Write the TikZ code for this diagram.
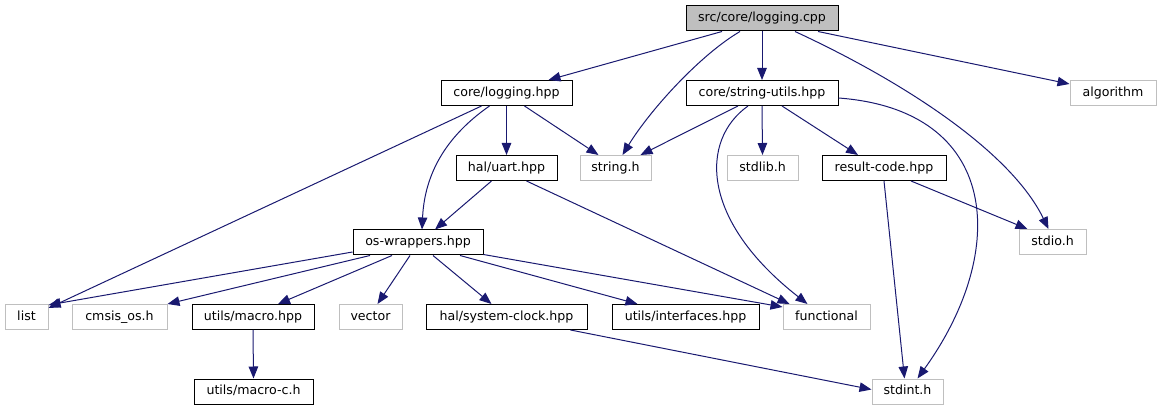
\documentclass[tikz,border=0pt]{standalone}
\usepackage{fontspec}
\setmainfont{DejaVu Sans}
\usetikzlibrary{arrows.meta}
\definecolor{edgec}{HTML}{191970}
\definecolor{extc}{HTML}{BFBFBF}
\begin{document}
\begin{tikzpicture}[x=1pt,y=-1pt,
  box/.style={draw=black, line width=1pt, minimum height=25pt, inner sep=0pt,
    text height=9.5pt, text depth=3pt, font=\fontsize{12.6}{15}\selectfont},
  extbox/.style={box, draw=extc},
  rootbox/.style={box, fill=extc},
  dep/.style={draw=edgec, line width=1pt, -{Triangle[length=12pt,width=9.5pt]}}]
\useasboundingbox (0,0) rectangle (1161,411);
% nodes
\node[rootbox, minimum width=152pt] (root) at (762,18.5) {src/core/logging.cpp};
\node[box, minimum width=131pt] (logh) at (506.5,93) {core/logging.hpp};
\node[box, minimum width=152pt] (strutil) at (762,93) {core/string-utils.hpp};
\node[extbox, minimum width=86pt] (algo) at (1113,93) {algorithm};
\node[box, minimum width=101pt] (uart) at (506.5,168) {hal/uart.hpp};
\node[extbox, minimum width=71pt] (strh) at (615.5,168) {string.h};
\node[extbox, minimum width=71pt] (stdlib) at (762.5,168) {stdlib.h};
\node[box, minimum width=124pt] (result) at (884,168) {result-code.hpp};
\node[box, minimum width=130pt] (osw) at (418,242.5) {os-wrappers.hpp};
\node[extbox, minimum width=67pt] (stdio) at (1052.5,242) {stdio.h};
\node[extbox, minimum width=43pt] (list) at (26.5,317) {list};
\node[extbox, minimum width=95pt] (cmsis) at (119.5,317) {cmsis\_os.h};
\node[box, minimum width=122pt] (macro) at (253,317) {utils/macro.hpp};
\node[extbox, minimum width=63pt] (vector) at (370.5,317) {vector};
\node[box, minimum width=161pt] (sysclk) at (506.5,317) {hal/system-clock.hpp};
\node[box, minimum width=147pt] (iface) at (685.5,317) {utils/interfaces.hpp};
\node[extbox, minimum width=87pt] (func) at (826.5,317) {functional};
\node[box, minimum width=119pt] (macroc) at (253.5,391.5) {utils/macro-c.h};
\node[extbox, minimum width=71pt] (stdint) at (907.5,391.5) {stdint.h};
% edges from root
\draw[dep] ([xshift=-40pt]root.south) -- ([xshift=42pt]logh.north);
\draw[dep] ([xshift=-22pt]root.south) .. controls (700,55) and (650,110) .. ([xshift=7pt]strh.north);
\draw[dep] (root.south) -- (strutil.north);
\draw[dep] ([xshift=33pt]root.south) .. controls (900,80) and (1010,150) .. ([xshift=-4pt]stdio.north);
\draw[dep] ([xshift=56pt]root.south) -- ([yshift=9pt]algo.west);
% edges from core/logging.hpp
\draw[dep] ([xshift=-25pt]logh.south) -- ([yshift=-4pt]list.north east);
\draw[dep] ([xshift=-17pt]logh.south) .. controls (455,130) and (425,165) .. ([xshift=4pt]osw.north);
\draw[dep] (logh.south) -- (uart.north);
\draw[dep] ([xshift=18pt]logh.south) -- ([xshift=-17pt]strh.north);
% edges from core/string-utils.hpp
\draw[dep] ([xshift=-24pt]strutil.south) -- ([xshift=25pt]strh.north);
\draw[dep] ([xshift=-14pt]strutil.south) .. controls (700,140) and (700,220) .. ([xshift=-19pt]func.north);
\draw[dep] (strutil.south) -- (stdlib.north);
\draw[dep] ([xshift=20pt]strutil.south) -- ([xshift=-26pt]result.north);
\draw[dep] ([yshift=-5pt]strutil.east) .. controls (1000,110) and (1010,250) .. ([xshift=10pt]stdint.north);
% edges from hal/uart.hpp
\draw[dep] ([xshift=-15pt]uart.south) -- ([xshift=17pt]osw.north);
\draw[dep] ([xshift=20pt]uart.south) -- ([xshift=7pt]func.north west);
% edges from result-code.hpp
\draw[dep] ([xshift=27pt]result.south) -- ([xshift=9pt]stdio.north west);
\draw[dep] (result.south) -- ([xshift=-3pt]stdint.north);
% edges from os-wrappers.hpp
\draw[dep] ([yshift=-9.5pt]osw.west) -- ([yshift=-1pt]list.north east);
\draw[dep] ([xshift=-48pt]osw.south) -- (cmsis.north east);
\draw[dep] ([xshift=-26pt]osw.south) -- ([xshift=25pt]macro.north);
\draw[dep] ([xshift=-8pt]osw.south) -- ([xshift=7pt]vector.north);
\draw[dep] ([xshift=15pt]osw.south) -- ([xshift=-15pt]sysclk.north);
\draw[dep] ([xshift=42pt]osw.south) -- ([xshift=-48pt]iface.north);
\draw[dep] ([yshift=1pt]osw.south east) -- ([yshift=-3pt]func.north west);
% others
\draw[dep] (macro.south) -- (macroc.north);
\draw[dep] ([xshift=64pt]sysclk.south) -- ([yshift=2pt]stdint.west);
\end{tikzpicture}
\end{document}
